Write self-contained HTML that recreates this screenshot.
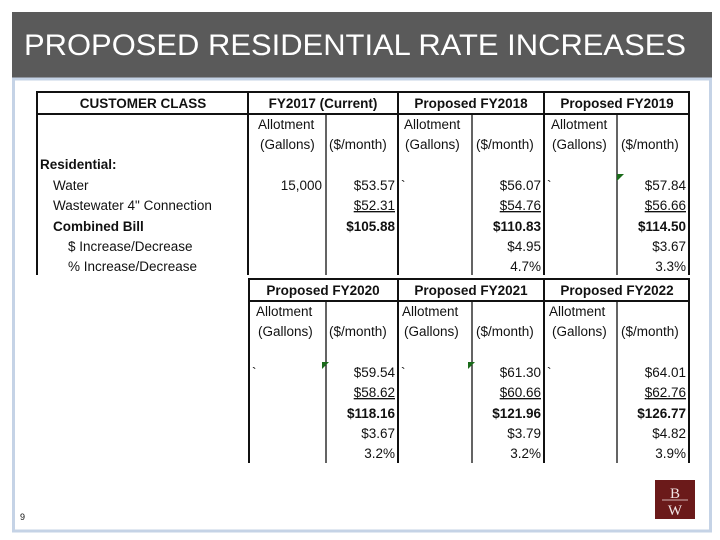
<!DOCTYPE html>
<html><head><meta charset="utf-8"><style>
body{margin:0;width:720px;height:540px;background:#fff;overflow:hidden}
svg{display:block}
text{font-family:"Liberation Sans",sans-serif;font-size:13.5px;fill:#111}
.b{font-weight:bold}
</style></head><body>
<svg width="720" height="540">
<rect x="12" y="12" width="700" height="67" fill="#5a5a5a"/>
<text x="24" y="55" textLength="662" lengthAdjust="spacingAndGlyphs" style="font-size:30px;fill:#fff">PROPOSED RESIDENTIAL RATE INCREASES</text>
<rect x="13.5" y="79" width="697" height="452" fill="none" stroke="#c5d3e6" stroke-width="3"/>

<g stroke="#111">
<line x1="36" y1="92" x2="690" y2="92" stroke-width="2"/>
<line x1="37" y1="92" x2="37" y2="275" stroke-width="2"/>
<line x1="689" y1="92" x2="689" y2="275" stroke-width="2"/>
<line x1="37" y1="114" x2="689" y2="114" stroke-width="2"/>
<line x1="248" y1="92" x2="248" y2="275" stroke-width="2"/>
<line x1="398" y1="92" x2="398" y2="275" stroke-width="2"/>
<line x1="544" y1="92" x2="544" y2="275" stroke-width="2"/>
<line x1="326" y1="114" x2="326" y2="275" stroke-width="1.3"/>
<line x1="472" y1="114" x2="472" y2="275" stroke-width="1.3"/>
<line x1="617" y1="114" x2="617" y2="275" stroke-width="1.3"/>
</g>
<g stroke="#111">
<line x1="248" y1="279" x2="690" y2="279" stroke-width="2"/>
<line x1="249" y1="279" x2="249" y2="463" stroke-width="2"/>
<line x1="689" y1="279" x2="689" y2="463" stroke-width="2"/>
<line x1="249" y1="301" x2="689" y2="301" stroke-width="2"/>
<line x1="398" y1="279" x2="398" y2="463" stroke-width="2"/>
<line x1="544" y1="279" x2="544" y2="463" stroke-width="2"/>
<line x1="326" y1="301" x2="326" y2="463" stroke-width="1.3"/>
<line x1="472" y1="301" x2="472" y2="463" stroke-width="1.3"/>
<line x1="617" y1="301" x2="617" y2="463" stroke-width="1.3"/>
</g>

<g text-anchor="middle">
<text x="143" y="108" class="b">CUSTOMER CLASS</text>
<text x="323" y="108" class="b">FY2017 (Current)</text>
<text x="471" y="108" class="b">Proposed FY2018</text>
<text x="617" y="108" class="b">Proposed FY2019</text>
<text x="323" y="295" class="b">Proposed FY2020</text>
<text x="471" y="295" class="b">Proposed FY2021</text>
<text x="617" y="295" class="b">Proposed FY2022</text>
</g>

<g>
<text x="258" y="129">Allotment</text><text x="260" y="149">(Gallons)</text><text x="329" y="149">($/month)</text>
<text x="404" y="129">Allotment</text><text x="405" y="149">(Gallons)</text><text x="476" y="149">($/month)</text>
<text x="551" y="129">Allotment</text><text x="552" y="149">(Gallons)</text><text x="621" y="149">($/month)</text>
<text x="256" y="316">Allotment</text><text x="258" y="336">(Gallons)</text><text x="329" y="336">($/month)</text>
<text x="402" y="316">Allotment</text><text x="404" y="336">(Gallons)</text><text x="476" y="336">($/month)</text>
<text x="549" y="316">Allotment</text><text x="552" y="336">(Gallons)</text><text x="621" y="336">($/month)</text>
</g>

<g>
<text x="40" y="169" class="b">Residential:</text>
<text x="53" y="190">Water</text>
<text x="53" y="210">Wastewater 4" Connection</text>
<text x="53" y="231" class="b">Combined Bill</text>
<text x="68" y="251">$ Increase/Decrease</text>
<text x="68" y="271">% Increase/Decrease</text>
</g>

<g>
<text x="401" y="190">`</text><text x="547" y="190">`</text>
<text x="252" y="377">`</text><text x="401" y="377">`</text><text x="547" y="377">`</text>
</g>

<g text-anchor="end">
<text x="322" y="190">15,000</text>
<text x="395" y="190">$53.57</text>
<text x="395" y="210" text-decoration="underline">$52.31</text>
<text x="395" y="231" class="b">$105.88</text>
<text x="541" y="190">$56.07</text>
<text x="541" y="210" text-decoration="underline">$54.76</text>
<text x="541" y="231" class="b">$110.83</text>
<text x="541" y="251">$4.95</text>
<text x="541" y="271">4.7%</text>
<text x="686" y="190">$57.84</text>
<text x="686" y="210" text-decoration="underline">$56.66</text>
<text x="686" y="231" class="b">$114.50</text>
<text x="686" y="251">$3.67</text>
<text x="686" y="271">3.3%</text>
</g>
<g text-anchor="end">
<text x="395" y="377">$59.54</text>
<text x="395" y="397" text-decoration="underline">$58.62</text>
<text x="395" y="418" class="b">$118.16</text>
<text x="395" y="438">$3.67</text>
<text x="395" y="458">3.2%</text>
<text x="541" y="377">$61.30</text>
<text x="541" y="397" text-decoration="underline">$60.66</text>
<text x="541" y="418" class="b">$121.96</text>
<text x="541" y="438">$3.79</text>
<text x="541" y="458">3.2%</text>
<text x="686" y="377">$64.01</text>
<text x="686" y="397" text-decoration="underline">$62.76</text>
<text x="686" y="418" class="b">$126.77</text>
<text x="686" y="438">$4.82</text>
<text x="686" y="458">3.9%</text>
</g>
<g fill="#1a6b1a">
<polygon points="617,174 624,174 617,181"/>
<polygon points="322,362 329,362 322,369"/>
<polygon points="468,362 475,362 468,369"/>
</g>

<text x="20" y="520" style="font-size:9px">9</text>
<g>
<rect x="655" y="480" width="40" height="39" fill="#6b1a1a"/>
<text x="675" y="498" text-anchor="middle" style="font-family:'Liberation Serif',serif;font-size:15px;fill:#f2e6e6">B</text>
<line x1="662" y1="500" x2="688" y2="500" stroke="#f2e6e6" stroke-width="0.8"/>
<text x="675" y="515" text-anchor="middle" style="font-family:'Liberation Serif',serif;font-size:15px;fill:#f2e6e6">W</text>
</g>
</svg>
</body></html>
